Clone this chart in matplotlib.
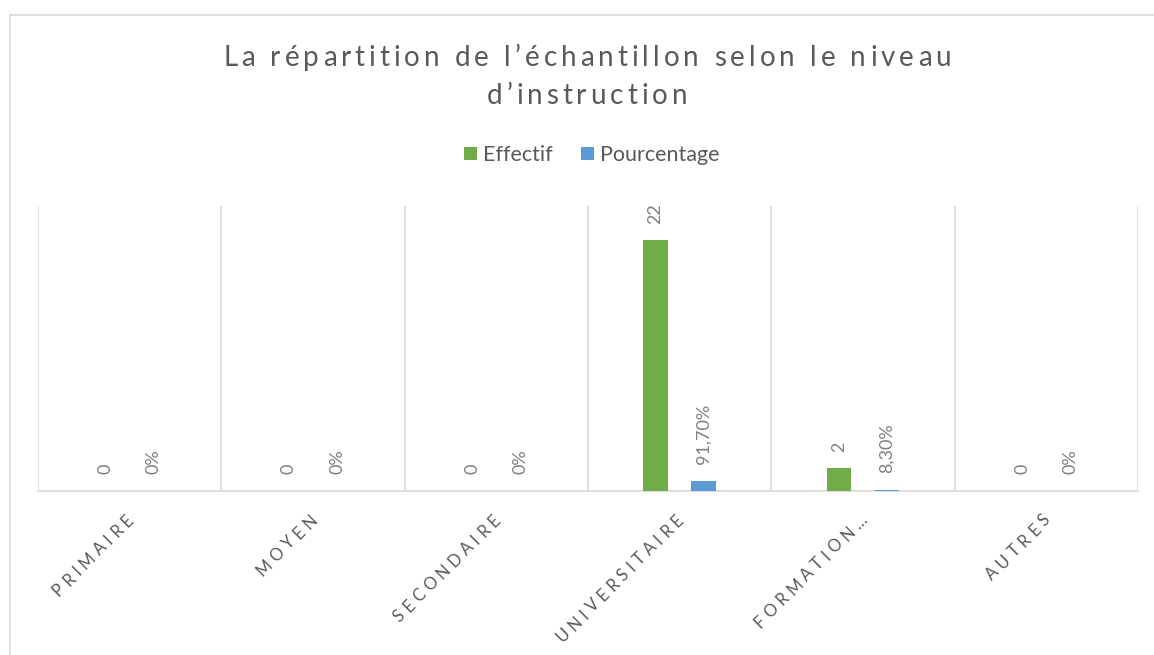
import math
import matplotlib
matplotlib.use("Agg")
import matplotlib.pyplot as plt
from matplotlib.patches import Rectangle
from matplotlib.transforms import IdentityTransform
from matplotlib.font_manager import FontProperties, findfont, get_font

categories = ["PRIMAIRE", "MOYEN", "SECONDAIRE", "UNIVERSITAIRE", "FORMATION…", "AUTRES"]
effectif = [0, 0, 0, 22, 2, 0]
pourcentage = [0, 0, 0, 0.917, 0.083, 0]
pourcentage_labels = ["0%", "0%", "0%", "91,70%", "8,30%", "0%"]
title_lines = ["La répartition de l’échantillon selon le niveau", "d’instruction"]

GREEN = "#70AD47"
BLUE = "#5B9BD5"
GRID = "#D9D9D9"
TEXT = "#595959"
LABEL = "#7F7F7F"
FAMILY = "Lato"

plt.rcParams["font.family"] = [FAMILY, "DejaVu Sans"]

W, H = 1154, 655
DPI = 100
fig = plt.figure(figsize=(W / DPI, H / DPI), dpi=DPI)


def advances(s, size):
    font = get_font(findfont(FontProperties(family=FAMILY)))
    font.set_size(size, DPI)
    return [font.load_char(ord(c)).linearHoriAdvance / 65536 for c in s]


def spaced_text(s, x0, y0, size, spacing, angle=0, **kw):
    # draws a string letter by letter (pixel coords, y up) with extra tracking
    c, si = math.cos(math.radians(angle)), math.sin(math.radians(angle))
    pos = 0
    for ch, adv in zip(s, advances(s, size)):
        fig.text(x0 + pos * c, y0 + pos * si, ch, transform=IdentityTransform(),
                 fontsize=size, rotation=angle, rotation_mode="anchor",
                 ha="left", va="baseline", **kw)
        pos += adv + spacing


def spaced_length(s, size, spacing):
    return sum(advances(s, size)) + spacing * (len(s) - 1)


# chart border (cut by the screenshot on right and bottom)
fig.patches.append(Rectangle((10 / W, -0.1), 1.2, 1 - 15 / H + 0.1, transform=fig.transFigure,
                             fill=False, edgecolor=GRID, linewidth=1.2))

left, right, bottom, top = 38, 1138, 491, 206
ax = fig.add_axes([left / W, 1 - bottom / H, (right - left) / W, (bottom - top) / H])
x = list(range(len(categories)))
width = 0.136
off = 0.131

bars_e = ax.bar([i - off for i in x], effectif, width, color=GREEN, label="Effectif", zorder=3)
bars_p = ax.bar([i + off for i in x], pourcentage, width, color=BLUE, label="Pourcentage", zorder=3)

for b, v in zip(bars_e, effectif):
    ax.annotate(str(v), (b.get_x() + b.get_width() / 2, b.get_height()), xytext=(0, 12),
                textcoords="offset points", rotation=90, ha="center", va="bottom",
                fontsize=13, color=LABEL)
for b, t in zip(bars_p, pourcentage_labels):
    ax.annotate(t, (b.get_x() + b.get_width() / 2, b.get_height()), xytext=(0, 12),
                textcoords="offset points", rotation=90, ha="center", va="bottom",
                fontsize=13, color=LABEL)

ax.set_xlim(-0.5, len(categories) - 0.5)
ax.set_ylim(0, 25)
ax.set_yticks([])
ax.set_xticks([i - 0.5 for i in range(len(categories) + 1)])
ax.set_xticklabels([])
ax.tick_params(axis="x", length=0)
ax.grid(True, axis="x", color=GRID, linewidth=1.2)
for s in ["top", "left", "right"]:
    ax.spines[s].set_visible(False)
ax.spines["bottom"].set_color(GRID)
ax.spines["bottom"].set_linewidth(1.2)

# category labels: 45 deg, tracked capitals, right end just under each category centre
lab_size, lab_sp = 12, 4.4
cat_w = (right - left) / len(categories)
for i, name in enumerate(categories):
    cx = left + (i + 0.5) * cat_w
    ex, ey = cx + 5, H - 521
    L = spaced_length(name, lab_size, lab_sp)
    spaced_text(name, ex - L * math.cos(math.radians(45)), ey - L * math.sin(math.radians(45)),
                lab_size, lab_sp, angle=45, color=TEXT)

# title with tracking
t_size = 20
t_sp = (728 - sum(advances(title_lines[0], t_size))) / (len(title_lines[0]) - 1)
for line, base in zip(title_lines, [66, 104]):
    L = spaced_length(line, t_size, t_sp)
    spaced_text(line, 587 - L / 2, H - base, t_size, t_sp, color=TEXT)

fig.legend(handles=[bars_e, bars_p], loc="center", bbox_to_anchor=(592 / W, 1 - 155 / H),
           ncol=2, frameon=False, fontsize=15.5, handlelength=0.6, handleheight=0.6,
           handletextpad=0.3, columnspacing=1.3, labelcolor=TEXT)

fig.savefig("out.png", dpi=DPI, facecolor="white")
